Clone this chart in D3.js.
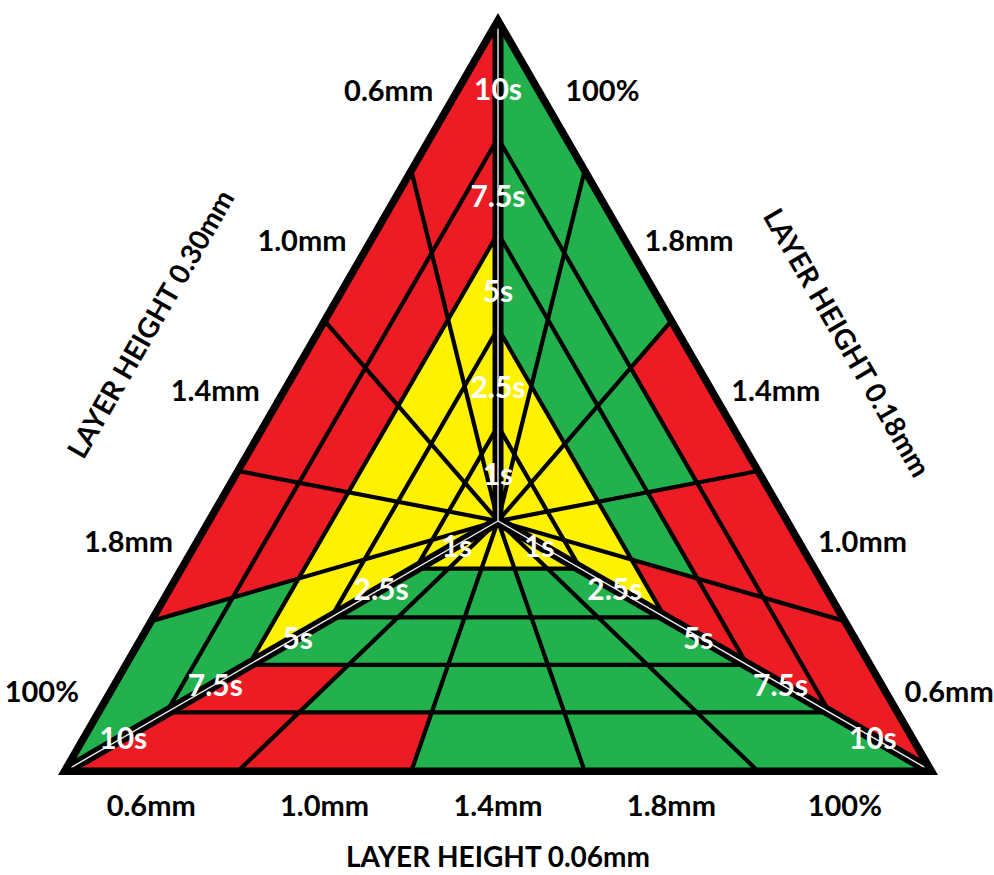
<!DOCTYPE html>
<html><head><meta charset="utf-8">
<script src="https://cdn.jsdelivr.net/npm/d3@7"></script>
<style>body{margin:0;background:#fff}svg{display:block}</style>
</head><body>
<svg id="chart" width="994" height="875"></svg>
<script>
// ---------- data ----------
const times = ["1s", "2.5s", "5s", "7.5s", "10s"];            // radial bands, centre -> edge
const widths = ["0.6mm", "1.0mm", "1.4mm", "1.8mm", "100%"];  // lateral columns along each edge
const layerHeights = ["0.30mm", "0.18mm", "0.06mm"];          // left, right, bottom sectors
// ratings: rows = times (inner -> outer), cols = widths
const ratingLeft = [
  ["Y","Y","Y","Y","Y"],
  ["Y","Y","Y","Y","Y"],
  ["Y","Y","Y","Y","Y"],
  ["R","R","R","R","G"],
  ["R","R","R","R","G"]
];
const ratingRight = [
  ["Y","Y","Y","Y","Y"],
  ["Y","Y","Y","Y","Y"],
  ["R","G","G","G","G"],
  ["R","R","G","G","G"],
  ["R","R","R","G","G"]
];
const ratingBottom = [
  ["Y","Y","Y","Y","Y"],
  ["G","G","G","G","G"],
  ["G","G","G","G","G"],
  ["R","G","G","G","G"],
  ["R","R","G","G","G"]
];

// ---------- layout ----------
const svg = d3.select("#chart");
const cx = 498, cy = 521, side = 867;
const hgt = side * Math.sqrt(3) / 2;
const C = [cx, cy];
const vTop = [cx, cy - 2 * hgt / 3];
const vBL = [cx - side / 2, cy + hgt / 3];
const vBR = [cx + side / 2, cy + hgt / 3];

const color = d3.scaleOrdinal().domain(["R", "G", "Y"]).range(["#ED1C24", "#22B14C", "#FFF200"]);
const rScale = d3.scaleLinear().domain(d3.range(times.length + 1)).range([0, 0.19, 0.385, 0.575, 0.765, 1]);
const sScale = d3.scaleBand().domain(widths).range([0, 1]);
const bw = sScale.bandwidth();

const lerp = (a, b, f) => [a[0] + (b[0] - a[0]) * f, a[1] + (b[1] - a[1]) * f];

const sectorDefs = [
  { height: layerHeights[0], e0: vTop, e1: vBL, rating: ratingLeft, off: [-66, -6], tN: 150, tA: 3, angle: -60 },
  { height: layerHeights[1], e0: vBR, e1: vTop, rating: ratingRight, off: [61, -6], tN: 142, tA: -20, angle: 60 },
  { height: layerHeights[2], e0: vBL, e1: vBR, rating: ratingBottom, off: [0, 33], tN: 85, tA: 0, angle: 0 }
];
const P = (sec, t, s) => lerp(C, lerp(sec.e0, sec.e1, s), t);

const line = d3.line();
const triPath = line([vTop, vBL, vBR]) + "Z";

svg.append("defs").append("clipPath").attr("id", "tri")
  .append("path").attr("d", triPath);
const inner = svg.append("g").attr("clip-path", "url(#tri)");

// ---------- cells ----------
const cells = sectorDefs.flatMap(sec =>
  times.flatMap((tm, i) => widths.map((w, j) => {
    const s0 = sScale(w), s1 = s0 + bw, t0 = rScale(i), t1 = rScale(i + 1);
    return { code: sec.rating[i][j], pts: [P(sec, t0, s0), P(sec, t1, s0), P(sec, t1, s1), P(sec, t0, s1)] };
  })));

inner.append("g").selectAll("path").data(cells).join("path")
  .attr("d", d => line(d.pts) + "Z")
  .attr("fill", d => color(d.code))
  .attr("stroke", d => color(d.code))
  .attr("stroke-width", 0.8);

// ---------- grid lines ----------
const gridLines = sectorDefs.flatMap(sec => [
  ...d3.range(1, times.length).map(i => [P(sec, rScale(i), 0), P(sec, rScale(i), 1)]),
  ...widths.slice(1).map(w => [C, P(sec, 1, sScale(w))])
]);
inner.append("g").selectAll("path").data(gridLines).join("path")
  .attr("d", d => line(d))
  .attr("stroke", "#000").attr("stroke-width", 4.2).attr("fill", "none");

// ---------- spokes ----------
const spokes = [vTop, vBL, vBR];
inner.append("g").selectAll("path").data(spokes).join("path")
  .attr("d", v => line([C, v]))
  .attr("stroke", "#000").attr("stroke-width", 11);
inner.append("g").selectAll("path").data(spokes).join("path")
  .attr("d", v => line([C, v]))
  .attr("stroke", "#eeeeee").attr("stroke-width", 1.4);

// ---------- outline ----------
svg.append("path")
  .attr("d", triPath)
  .attr("fill", "none").attr("stroke", "#000").attr("stroke-width", 7.5)
  .attr("stroke-linejoin", "miter");

// ---------- spoke time labels ----------
const font = "Lato, 'Open Sans', sans-serif";
const spokeLabels = spokes.flatMap(v => times.map((tm, i) => {
  const f = (rScale(i) + rScale(i + 1)) / 2 - (i === 0 ? 0 : 0.018);
  return { text: tm, pos: lerp(C, v, f) };
}));
svg.append("g").selectAll("text").data(spokeLabels).join("text")
  .attr("x", d => d.pos[0]).attr("y", d => d.pos[1])
  .attr("text-anchor", "middle").attr("dominant-baseline", "central")
  .attr("font-family", font).attr("font-weight", 700).attr("font-size", 30)
  .attr("fill", "#fff")
  .text(d => d.text);

// ---------- edge width labels ----------
const edgeLabels = sectorDefs.flatMap(sec => widths.map(w => {
  const e = lerp(sec.e0, sec.e1, sScale(w) + bw / 2);
  return { text: w, x: e[0] + sec.off[0], y: e[1] + sec.off[1] };
}));
svg.append("g").selectAll("text").data(edgeLabels).join("text")
  .attr("x", d => d.x).attr("y", d => d.y)
  .attr("text-anchor", "middle").attr("dominant-baseline", "central")
  .attr("font-family", font).attr("font-weight", 700).attr("font-size", 29)
  .attr("fill", "#000")
  .text(d => d.text);

// ---------- sector titles ----------
const titles = sectorDefs.map(sec => {
  const mid = lerp(sec.e0, sec.e1, 0.5);
  const nx = mid[0] - cx, ny = mid[1] - cy, nl = Math.hypot(nx, ny);
  const dx = sec.e1[0] - sec.e0[0], dy = sec.e1[1] - sec.e0[1], dl = Math.hypot(dx, dy);
  return {
    text: "LAYER HEIGHT " + sec.height,
    x: mid[0] + nx / nl * sec.tN + dx / dl * sec.tA,
    y: mid[1] + ny / nl * sec.tN + dy / dl * sec.tA,
    angle: sec.angle
  };
});
svg.append("g").selectAll("text").data(titles).join("text")
  .attr("transform", d => `translate(${d.x},${d.y}) rotate(${d.angle})`)
  .attr("text-anchor", "middle").attr("dominant-baseline", "central")
  .attr("font-family", font).attr("font-weight", 700).attr("font-size", 28)
  .attr("fill", "#000")
  .text(d => d.text);
</script>
</body></html>
